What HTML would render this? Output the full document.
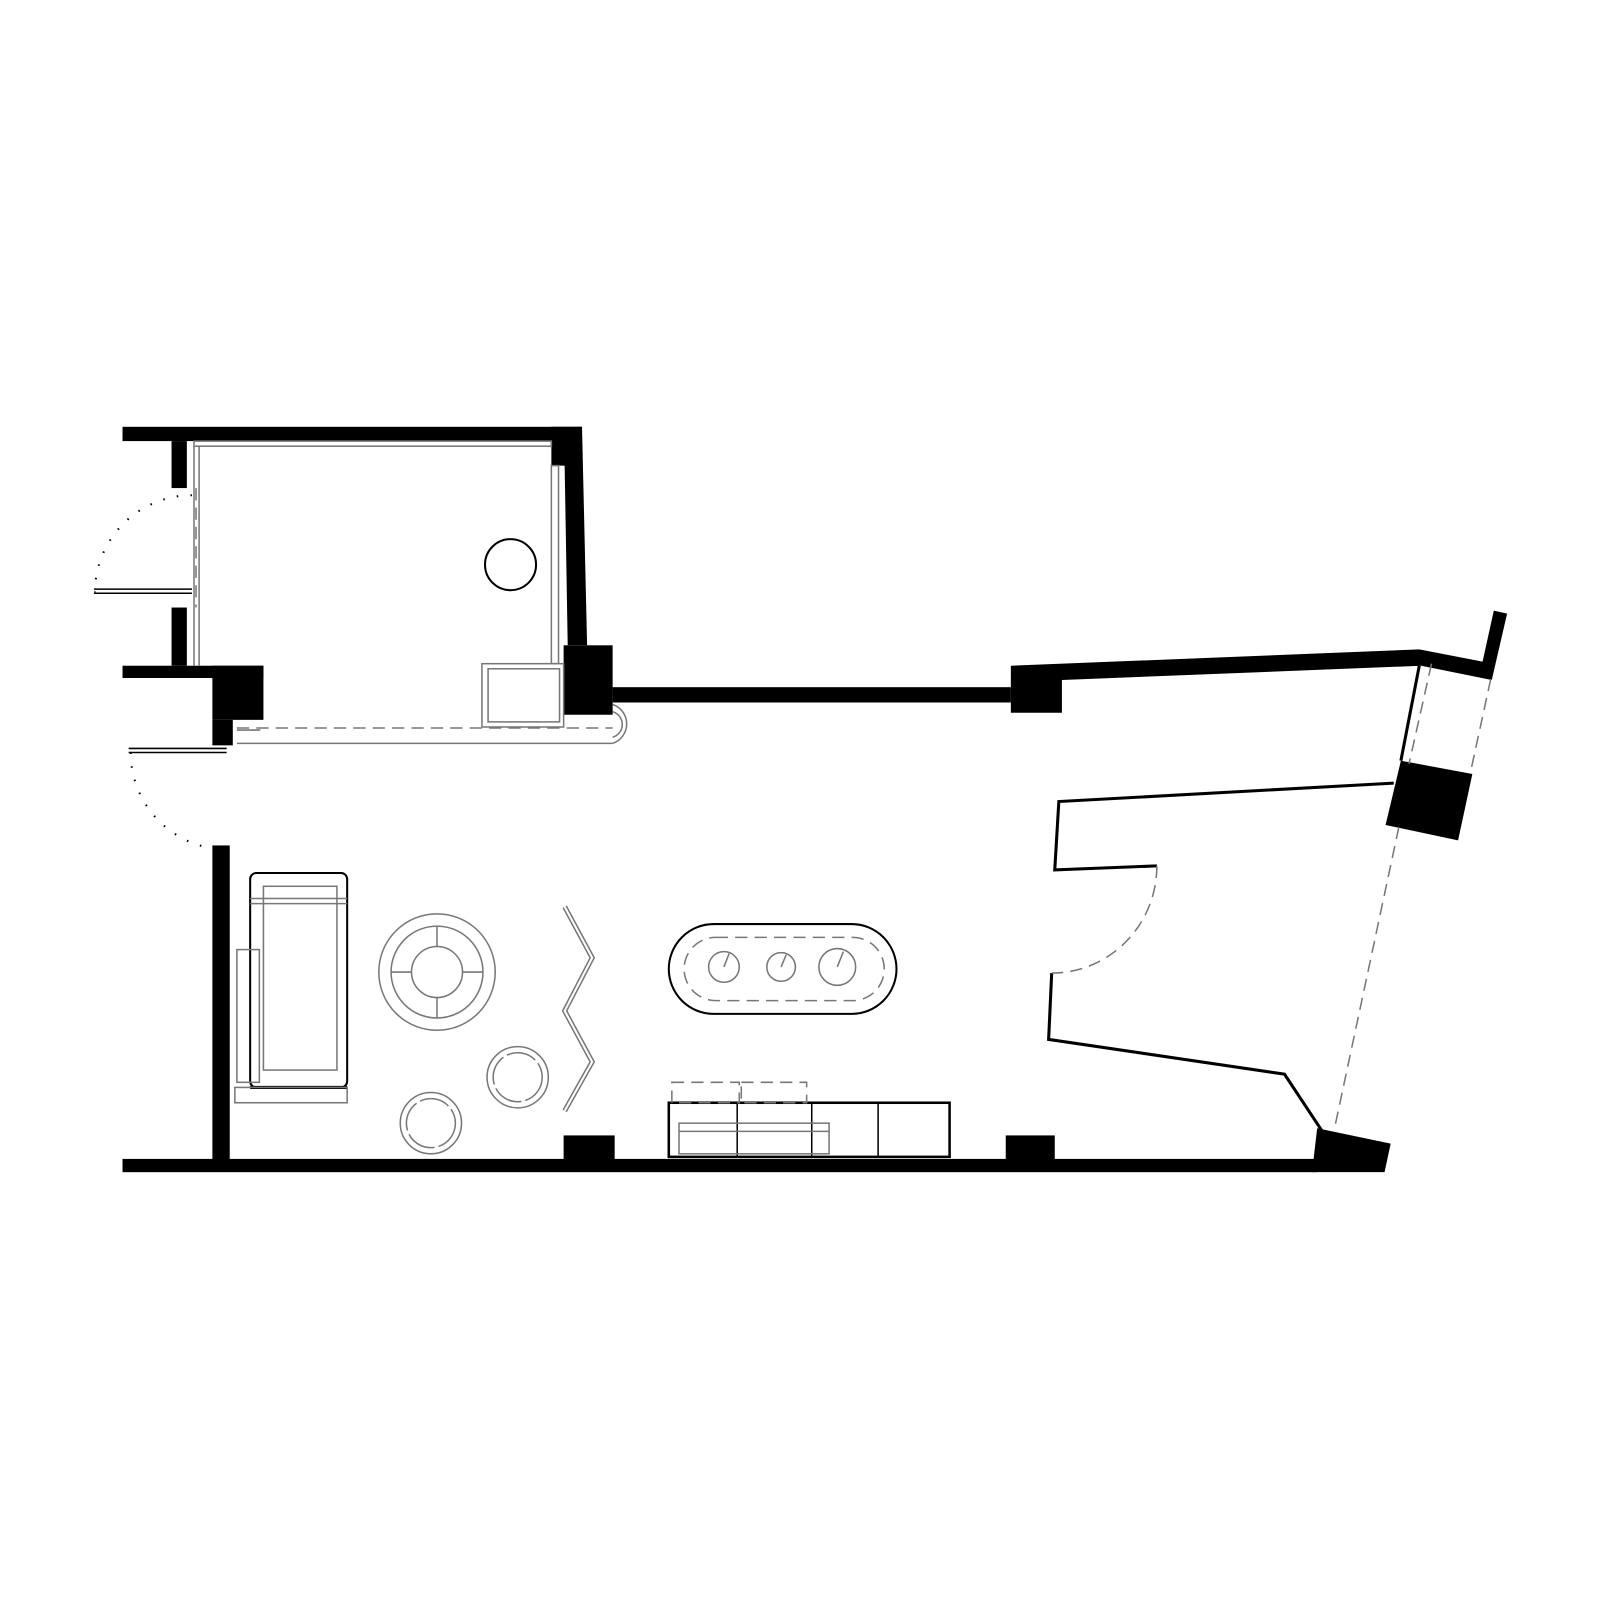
<!DOCTYPE html>
<html><head><style>html,body{margin:0;padding:0;background:#fff}svg{display:block}</style></head>
<body>
<svg width="1600" height="1600" viewBox="0 0 1567 1567" xmlns="http://www.w3.org/2000/svg">
<rect width="1567" height="1567" fill="#fff"/>
<g fill="#000">
<rect x="120" y="418" width="450" height="14"/>
<polygon points="540,418 570,418 575,632 556,632 553,456 540,456"/>
<rect x="168" y="432" width="15" height="46"/>
<rect x="168" y="595" width="15" height="57"/>
<rect x="120" y="652" width="138" height="12"/>
<rect x="208" y="652" width="50" height="53"/>
<rect x="208" y="705" width="20" height="25"/>
<rect x="208" y="828" width="17" height="310"/>
<rect x="120" y="1135" width="1170" height="13"/>
<polygon points="1290,1105 1362,1120 1356,1148 1285,1148"/>
<rect x="552" y="1112" width="50" height="24"/>
<rect x="985" y="1112" width="48" height="24"/>
<rect x="552" y="632" width="48" height="68"/>
<rect x="600" y="673" width="390" height="15"/>
<polygon points="990,652 1390,636 1452,648 1463,598 1476,601 1461,666 1392,652 1040,666 1040,698 990,698"/>
<polygon points="1372,745 1442,758 1428,823 1357,808"/>
</g>
<g fill="none" stroke="#000">
<line x1="1390" y1="652" x2="1372" y2="745" stroke-width="3"/>
<polyline points="1365,767 1037,785 1033,852 1133,848" stroke-width="3"/>
<polyline points="1030,953 1027,1018 1258,1052 1295,1108" stroke-width="3"/>
<line x1="92" y1="577" x2="188" y2="577" stroke-width="1.5"/>
<line x1="92" y1="581" x2="188" y2="581" stroke-width="1.5"/>
<line x1="126" y1="733" x2="222" y2="733" stroke-width="1.5"/>
<line x1="126" y1="737" x2="222" y2="737" stroke-width="1.5"/>
<circle cx="500" cy="553" r="25" stroke-width="2"/>
<rect x="245" y="855" width="95" height="210" rx="6" stroke-width="2"/>
<rect x="655" y="905" width="223" height="88" rx="44" stroke-width="2"/>
<rect x="655" y="1080" width="275" height="53" stroke-width="2.5"/>
<line x1="722" y1="1080" x2="722" y2="1133" stroke-width="1.5"/>
<line x1="795" y1="1080" x2="795" y2="1133" stroke-width="1.5"/>
<line x1="860" y1="1080" x2="860" y2="1133" stroke-width="1.5"/>
<line x1="245" y1="1065" x2="340" y2="1065" stroke-width="3"/>
</g>
<g fill="none" stroke="#000" stroke-width="2" stroke-dasharray="1.5 12">
<path d="M188,485 A95,95 0 0 0 93,580"/>
<path d="M128,737 A95,95 0 0 0 222,832"/>
</g>
<g fill="none" stroke="#777" stroke-width="1.5">
<rect x="190" y="432" width="350" height="5"/>
<line x1="190" y1="437" x2="190" y2="652"/>
<line x1="195" y1="437" x2="195" y2="652"/>
<rect x="540" y="456" width="7" height="194"/>
<rect x="472" y="650" width="80" height="62"/>
<rect x="478" y="655" width="70" height="52"/>
<line x1="232" y1="728" x2="600" y2="728"/>
<path d="M600,690 A20,20 0 0 1 600,728"/>
<path d="M600,697 A13,13 0 0 1 600,722"/>
<line x1="232" y1="715" x2="255" y2="715"/>
<rect x="258" y="868" width="72" height="180"/>
<line x1="245" y1="880" x2="340" y2="880"/>
<line x1="245" y1="885" x2="340" y2="885"/>
<rect x="230" y="1065" width="110" height="15"/>
<rect x="232" y="930" width="22" height="130"/>
<circle cx="428" cy="952" r="57"/>
<circle cx="428" cy="952" r="45"/>
<circle cx="428" cy="952" r="25"/>
<line x1="428" y1="907" x2="428" y2="927"/><line x1="428" y1="977" x2="428" y2="997"/>
<line x1="383" y1="952" x2="403" y2="952"/><line x1="453" y1="952" x2="473" y2="952"/>
<circle cx="507" cy="1055" r="30"/><circle cx="507" cy="1055" r="24" stroke-dasharray="30 4"/>
<circle cx="422" cy="1100" r="30"/><circle cx="422" cy="1100" r="24" stroke-dasharray="30 4"/>
<polyline points="553,888 580,938 553,990 580,1040 553,1088" stroke-width="5"/>
<polyline points="553,888 580,938 553,990 580,1040 553,1088" stroke="#fff" stroke-width="2"/>
<circle cx="709" cy="947" r="15"/><line x1="709" y1="947" x2="714" y2="934"/>
<circle cx="765" cy="947" r="14"/><line x1="765" y1="947" x2="770" y2="935"/>
<circle cx="820" cy="947" r="18"/><line x1="820" y1="947" x2="826" y2="932"/>
<rect x="665" y="1100" width="147" height="30"/>
<line x1="665" y1="1108" x2="812" y2="1108"/>
</g>
<g fill="none" stroke="#777" stroke-width="1.5" stroke-dasharray="12 7">
<line x1="192" y1="478" x2="192" y2="595"/>
<line x1="232" y1="713" x2="600" y2="713"/>
<line x1="1402" y1="650" x2="1380" y2="748"/>
<line x1="1460" y1="665" x2="1440" y2="757"/>
<line x1="1370" y1="810" x2="1307" y2="1105"/>
<path d="M1133,848 A103,105 0 0 1 1030,953"/>
<rect x="670" y="918" width="196" height="62" rx="31"/>
<rect x="658" y="1060" width="66" height="20"/>
<rect x="726" y="1060" width="64" height="20"/>
</g>
</svg>
</body></html>
